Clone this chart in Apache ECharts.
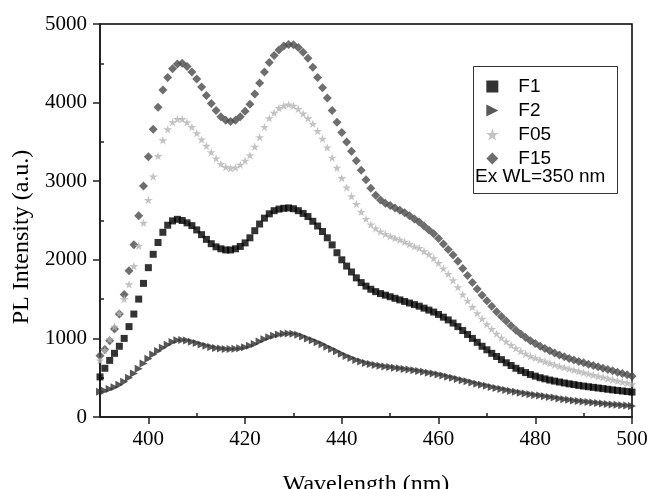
<!DOCTYPE html>
<html>
<head>
<meta charset="utf-8">
<script src="https://cdn.jsdelivr.net/npm/echarts@6/dist/echarts.min.js"></script>
<style>
html, body { margin: 0; padding: 0; background: #fff; }
#chart { width: 652px; height: 489px; }
</style>
</head>
<body>
<div id="chart"></div>
<script>
// wavelength grid: 390 .. 500 nm, one point per nm
var wlStart = 390;

// PL intensity (a.u.), 390..500 nm
var f1 = [
    510, 620, 720, 810, 900, 1000, 1150, 1310, 1500, 1700,      // 390-399
    1900, 2070, 2220, 2350, 2440, 2495, 2515, 2500, 2470, 2435, // 400-409
    2380, 2320, 2260, 2205, 2165, 2140, 2125, 2125, 2140, 2170, // 410-419
    2215, 2280, 2370, 2455, 2530, 2585, 2625, 2645, 2655, 2660, // 420-429
    2650, 2625, 2590, 2550, 2490, 2430, 2360, 2280, 2190, 2090, // 430-439
    2000, 1920, 1845, 1770, 1710, 1665, 1625, 1595, 1570, 1550, // 440-449
    1530, 1510, 1490, 1470, 1450, 1430, 1410, 1385, 1360, 1335, // 450-459
    1305, 1270, 1235, 1195, 1150, 1100, 1050, 1000, 950, 900,   // 460-469
    855, 810, 770, 730, 690, 655, 620, 590, 565, 540,           // 470-479
    520, 500, 485, 470, 457, 445, 433, 422, 412, 402,           // 480-489
    393, 385, 377, 369, 361, 353, 345, 338, 331, 324,           // 490-499
    317                                                         // 500
];
var f2 = [
    320, 335, 355, 380, 410, 450, 500, 555, 615, 680,
    740, 795, 840, 880, 920, 955, 975, 980, 972, 958,
    940, 922, 905, 890, 878, 870, 866, 865, 868, 875,
    888, 905, 930, 960, 990, 1015, 1035, 1050, 1058, 1062,
    1058, 1045, 1025, 1000, 975, 950, 925, 895, 865, 835,
    805, 775, 750, 725, 705, 688, 674, 662, 652, 643,
    635, 627, 619, 611, 603, 594, 585, 575, 564, 552,
    540, 527, 513, 499, 484, 469, 454, 439, 424, 410,
    396, 382, 369, 356, 344, 332, 321, 310, 300, 290,
    281, 272, 263, 255, 247, 235, 227, 219, 211, 204,
    197, 190, 184, 178, 172, 166, 160, 155, 150, 145,
    140
];
var f05 = [
    720, 850, 990, 1150, 1320, 1500, 1690, 1920, 2180, 2470,
    2760, 3060, 3320, 3520, 3660, 3750, 3790, 3790, 3750, 3690,
    3610, 3530, 3450, 3370, 3290, 3220, 3180, 3165, 3175, 3210,
    3260, 3330, 3440, 3560, 3690, 3800, 3870, 3930, 3960, 3975,
    3960, 3920, 3860, 3800, 3730, 3640, 3540, 3430, 3300, 3170,
    3040, 2920, 2810, 2710, 2610, 2520, 2450, 2400, 2360, 2330,
    2300, 2275, 2255, 2230, 2200, 2170, 2150, 2110, 2070, 2020,
    1960, 1890, 1820, 1740, 1650, 1560, 1480, 1400, 1320, 1250,
    1180, 1120, 1060, 1010, 960, 915, 875, 838, 805, 775,
    750, 727, 705, 684, 665, 647, 630, 614, 598, 581,
    565, 550, 535, 520, 505, 490, 475, 460, 446, 432,
    418
];
var f15 = [
    780, 860, 970, 1120, 1310, 1560, 1860, 2190, 2560, 2940,
    3310, 3660, 3940, 4160, 4320, 4430, 4490, 4500, 4460, 4390,
    4300, 4200, 4090, 3990, 3900, 3820, 3775, 3760, 3775, 3820,
    3890, 3980, 4110, 4250, 4390, 4510, 4600, 4670, 4720, 4740,
    4735, 4700, 4640, 4565, 4450, 4320, 4190, 4060, 3900, 3750,
    3620, 3500, 3380, 3260, 3140, 3020, 2910, 2820, 2760, 2720,
    2690, 2660, 2630, 2600, 2560, 2520, 2480, 2430, 2380, 2330,
    2270, 2200, 2130, 2060, 1980, 1890, 1800, 1710, 1630, 1550,
    1480, 1410, 1340, 1280, 1220, 1160, 1105, 1055, 1010, 970,
    935, 900, 870, 842, 815, 790, 767, 745, 725, 707,
    690, 672, 655, 638, 621, 604, 587, 570, 553, 537,
    520
];

var legendNames = ['F1', 'F2', 'F05', 'F15'];
var xTicks = [400, 420, 440, 460, 480, 500];
var xMinor = [410, 430, 450, 470, 490];
var yMinor = [500, 1500, 2500, 3500, 4500];

// marker shapes as paths so they keep their aspect in the legend too
var squarePath = 'path://M0,0 L10,0 L10,10 L0,10 Z';
var rightTriPath = 'path://M0,0 L10,5 L0,10 Z';
var starPath = 'path://M50,0 L61,35 L98,35 L68,57 L79,91 L50,70 L21,91 L32,57 L2,35 L39,35 Z';
var diamondPath = 'path://M5,0 L10,5 L5,10 L0,5 Z';

function pairs(arr) {
    return arr.map(function (v, i) { return [wlStart + i, v]; });
}

var serif = 'Liberation Serif';
var sans = 'Liberation Sans';

var chart = echarts.init(document.getElementById('chart'));
chart.setOption({
    animation: false,
    backgroundColor: '#fff',
    grid: {
        left: 100, right: 20, top: 24, bottom: 72,
        outerBoundsMode: 'none', containLabel: false,
        show: true, borderColor: '#000', borderWidth: 1.5
    },
    legend: {
        orient: 'vertical',
        left: 481, top: 72,
        itemWidth: 42, itemHeight: 12, itemGap: 5,
        symbolKeepAspect: true,
        selectedMode: false,
        data: legendNames,
        textStyle: { fontFamily: sans, fontSize: 19, lineHeight: 19, color: '#000' }
    },
    xAxis: [{
        type: 'value', min: 390, max: 500, position: 'bottom',
        name: 'Wavelength (nm)', nameLocation: 'middle', nameGap: 56,
        nameTextStyle: { fontFamily: serif, fontSize: 24, color: '#000' },
        axisLine: { show: true, lineStyle: { color: '#222', width: 2 } },
        axisTick: { show: true, customValues: xTicks, length: 7, lineStyle: { color: '#222', width: 1.5 } },
        axisLabel: { customValues: xTicks, fontFamily: serif, fontSize: 21, color: '#000', margin: 12 },
        splitLine: { show: false }
    }, {
        type: 'value', min: 390, max: 500, position: 'bottom',
        axisLine: { show: false },
        axisTick: { show: true, inside: true, customValues: xMinor, length: 4, lineStyle: { color: '#222', width: 1.5 } },
        axisLabel: { show: false },
        splitLine: { show: false }
    }],
    yAxis: [{
        type: 'value', min: 0, max: 5000, interval: 1000, position: 'left',
        axisLine: { show: true, lineStyle: { color: '#222', width: 2 } },
        axisTick: { show: true, length: 7, lineStyle: { color: '#222', width: 1.5 } },
        axisLabel: {
            fontFamily: serif, fontSize: 21, color: '#000', margin: 13,
            formatter: function (v) { return String(v); }
        },
        splitLine: { show: false }
    }, {
        type: 'value', min: 0, max: 5000, position: 'left',
        axisLine: { show: false },
        axisTick: { show: true, inside: true, customValues: yMinor, length: 4, lineStyle: { color: '#222', width: 1.5 } },
        axisLabel: { show: false },
        splitLine: { show: false }
    }],
    graphic: [{
        type: 'rect',
        shape: { x: 473.5, y: 66.5, width: 144, height: 127 },
        style: { fill: 'none', stroke: '#333', lineWidth: 1 }
    }, {
        type: 'text', x: 475, y: 177,
        style: { text: 'Ex WL=350 nm', font: '19px "Liberation Sans"', fill: '#000', textVerticalAlign: 'middle' }
    }, {
        type: 'text', x: 22, y: 237, rotation: Math.PI / 2,
        style: { text: 'PL Intensity (a.u.)', font: '24px "Liberation Serif"', fill: '#000', textAlign: 'center', textVerticalAlign: 'middle' }
    }],
    series: [{
        name: 'F1', type: 'scatter', data: pairs(f1),
        symbol: squarePath, symbolSize: 7, symbolKeepAspect: true,
        itemStyle: { color: '#000' }
    }, {
        name: 'F2', type: 'scatter', data: pairs(f2),
        symbol: rightTriPath, symbolSize: 8, symbolKeepAspect: true,
        itemStyle: { color: '#2e2e2e' }
    }, {
        name: 'F15', type: 'scatter', data: pairs(f15),
        symbol: diamondPath, symbolSize: 9, symbolKeepAspect: true,
        itemStyle: { color: '#4a4a4a' }
    }, {
        name: 'F05', type: 'scatter', data: pairs(f05),
        symbol: starPath, symbolSize: 9, symbolKeepAspect: true,
        itemStyle: { color: '#b4b4b4' }
    }]
});
</script>
</body>
</html>
